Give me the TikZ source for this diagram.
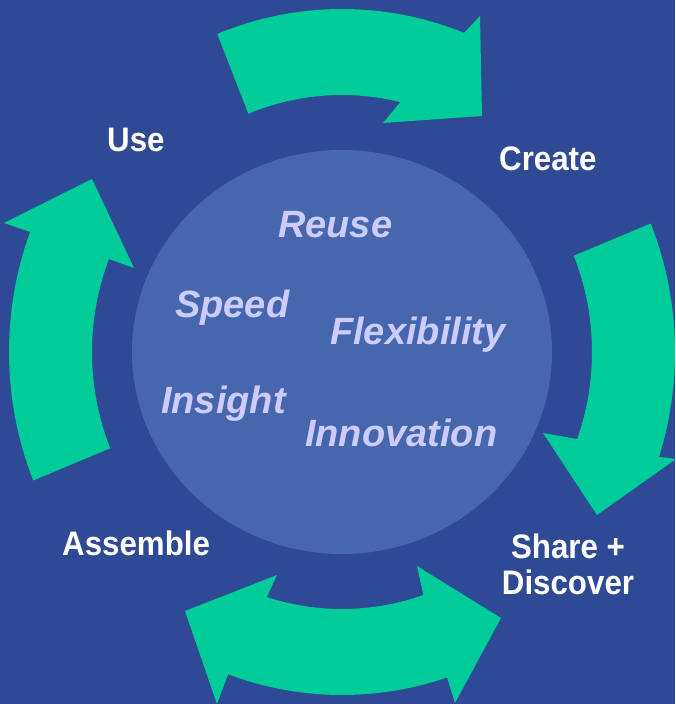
\documentclass[tikz,border=0pt]{standalone}
\usepackage{fontspec}
\setmainfont{Liberation Sans}
\newfontfamily\stagefont{Liberation Sans}[FakeStretch=0.92]
\usetikzlibrary{calc,shapes.geometric}

\definecolor{bgblue}{HTML}{2E4A94}
\definecolor{hubblue}{HTML}{4666AE}
\definecolor{arrowgreen}{HTML}{00CC99}
\definecolor{valuelilac}{HTML}{CCCCFF}

\tikzset{
    cyclearrow/.style={fill=arrowgreen},
    stage/.style={text=white, inner sep=0pt, anchor=base west,
        font=\stagefont\bfseries\fontsize{34}{36}\selectfont},
    value/.style={text=valuelilac, inner sep=0pt, anchor=base west,
        font=\bfseries\itshape\fontsize{38}{40}\selectfont}
}

\begin{document}
\begin{tikzpicture}[x=1pt, y=1pt]
    \useasboundingbox (0,0) rectangle (675,704);
    \fill[bgblue] (0,0) rectangle (675,704);

    \coordinate (c) at (342,352);
    \node[ellipse, fill=hubblue, minimum width=420pt, minimum height=404pt, inner sep=0pt] (hub) at (c) {};

    % arrows round the hub
    \fill[cyclearrow] ([shift={(c)}]112:333 and 343) arc[start angle=112, end angle=68.5, x radius=333, y radius=343]
        -- (480,688) -- (482,588) -- (383,581)
        -- ([shift={(c)}]76.5:250 and 257) arc[start angle=76.5, end angle=112, x radius=250, y radius=257] -- cycle;
    \fill[cyclearrow] ([shift={(c)}]22:333 and 343) arc[start angle=22, end angle=-17.8, x radius=333, y radius=343]
        -- (676,245) -- (597,189) -- (543,271)
        -- ([shift={(c)}]-19.8:250 and 257) arc[start angle=-19.8, end angle=22, x radius=250, y radius=257] -- cycle;
    \fill[cyclearrow] ([shift={(c)}]250:333 and 343) arc[start angle=250, end angle=288.4, x radius=333, y radius=343]
        -- (455,1) -- (501,86) -- (417,138)
        -- ([shift={(c)}]289:250 and 257) arc[start angle=289, end angle=252.5, x radius=250, y radius=257]
        -- (277,129) -- (185,93) -- (217,0) -- cycle;
    \fill[cyclearrow] ([shift={(c)}]202:333 and 343) arc[start angle=202, end angle=159.5, x radius=333, y radius=343]
        -- (4,481) -- (92,525) -- (134,436)
        -- ([shift={(c)}]158.8:250 and 257) arc[start angle=158.8, end angle=202, x radius=250, y radius=257] -- cycle;

    % stages
    \node[stage] (use) at (107,552) {Use};
    \node[stage] (create) at (499,533) {Create};
    \node[stage] (assemble) at (62,148) {Assemble};
    \node[stage, anchor=north, align=center] (share) at (568,170) {Share +\\Discover};

    % values in the hub
    \node[value] (reuse) at (278,466) {Reuse};
    \node[value] (speed) at (175,386) {Speed};
    \node[value] (flex) at (330,359) {Flexibility};
    \node[value] (insight) at (161,290) {Insight};
    \node[value] (innov) at (305,257) {Innovation};
\end{tikzpicture}
\end{document}
